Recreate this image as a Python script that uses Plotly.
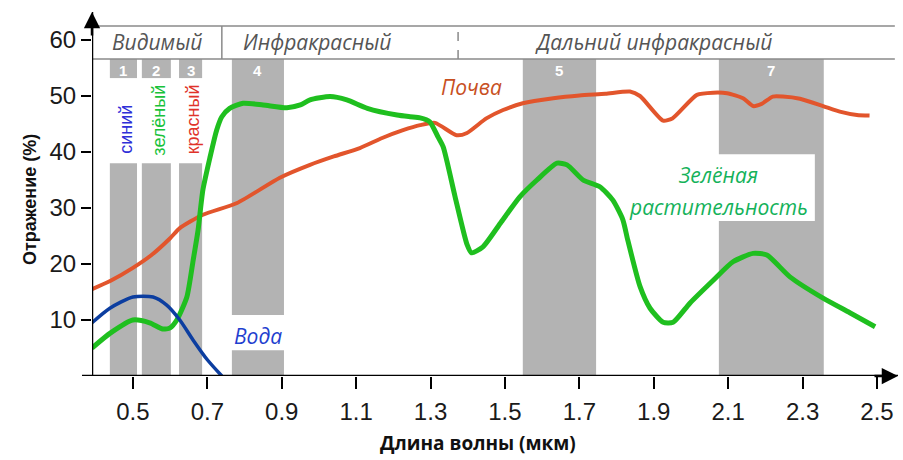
import plotly.graph_objects as go

# Spectral reflectance curves (wavelength in µm, reflectance in %)
soil_x = [0.39, 0.44, 0.5, 0.55, 0.6, 0.626, 0.688, 0.78, 0.895, 0.976, 1.04,
          1.11, 1.17, 1.226, 1.272, 1.312, 1.37, 1.398, 1.45, 1.495, 1.548, 1.63,
          1.70, 1.77, 1.836, 1.863, 1.925, 1.95, 2.016, 2.06, 2.097, 2.14, 2.167, 2.19,
          2.22, 2.247, 2.293, 2.355, 2.4, 2.446, 2.48]
soil_y = [15.5, 17.0, 19.3, 21.6, 24.6, 26.4, 28.8, 30.9, 35.4, 37.7, 39.2,
          40.7, 42.5, 43.9, 44.8, 45.2, 43.0, 43.4, 46.0, 47.5, 48.7, 49.6,
          50.1, 50.4, 50.8, 50.0, 45.6, 46.0, 50.2, 50.6, 50.5, 49.6, 48.2, 48.6,
          49.9, 49.9, 49.5, 48.2, 47.2, 46.6, 46.5]

veg_x = [0.39, 0.44, 0.5, 0.545, 0.58, 0.6, 0.618, 0.645, 0.662, 0.675, 0.688, 0.707,
         0.725, 0.739, 0.76, 0.796, 0.85, 0.914, 0.95, 0.976, 1.03, 1.075, 1.13, 1.21,
         1.245, 1.272, 1.298, 1.32, 1.334, 1.366, 1.398, 1.41, 1.44, 1.49, 1.54, 1.586,
         1.64, 1.667, 1.71, 1.755, 1.79, 1.817, 1.83, 1.863, 1.89, 1.925, 1.952, 1.997,
         2.06, 2.113, 2.167, 2.204, 2.266, 2.355, 2.427, 2.495]
veg_y = [5.0, 7.7, 10.0, 9.5, 8.4, 8.6, 10.0, 14.1, 20.7, 26.0, 33.2, 39.0,
         43.9, 46.3, 47.8, 48.7, 48.4, 47.9, 48.4, 49.3, 49.9, 49.3, 47.8, 46.6,
         46.3, 46.1, 45.4, 42.7, 40.9, 32.0, 23.5, 22.0, 23.0, 27.5, 32.0, 35.0,
         38.0, 37.7, 35.0, 33.8, 31.4, 27.9, 24.3, 16.0, 12.1, 9.6, 9.6, 13.0,
         17.1, 20.4, 21.9, 21.6, 17.7, 13.9, 11.3, 8.8]

water_x = [0.39, 0.438, 0.5, 0.554, 0.59, 0.626, 0.662, 0.7, 0.739]
water_y = [9.5, 12.1, 14.1, 14.1, 12.7, 10.0, 6.4, 2.9, 0.0]

# Sensor bands: start, end, number
band_x0 = [0.438, 0.524, 0.624, 0.766, 1.548, 2.075]
band_x1 = [0.511, 0.602, 0.686, 0.906, 1.745, 2.357]
band_num = ["1", "2", "3", "4", "5", "7"]

# Colour names shown in the visible bands
color_names = ["синий", "зелёный", "красный"]
color_name_cols = ["#2f2fd8", "#19c23a", "#e0322a"]

# Spectral regions shown in the header strip
region_names = ["Видимый", "Инфракрасный", "Дальний инфракрасный"]
region_centers = [0.565, 0.995, 1.898]
region_splits = [0.739, 1.374]

x_ticks = [0.5, 0.7, 0.9, 1.1, 1.3, 1.5, 1.7, 1.9, 2.1, 2.3, 2.5]
y_ticks = [10, 20, 30, 40, 50, 60]

X_MIN, X_MAX = 0.39, 2.5565
Y_MAX = 65
HDR_LO, HDR_HI = 56.6, 62.5

GRAY = "#b3b3b3"
SOIL = "#e2552c"
VEG = "#1fbf1f"
WATER = "#0c3ea0"
ITALIC_FONT = "Open Sans"

PL, PR, PT, PB = 92, 5, 12, 84
W, H = 903, 460
pw, ph = W - PL - PR, H - PT - PB

fig = go.Figure()

fig.add_trace(go.Scatter(x=soil_x, y=soil_y, mode="lines",
                         line=dict(color=SOIL, width=4, shape="spline", smoothing=0.6),
                         hoverinfo="skip"))
fig.add_trace(go.Scatter(x=veg_x, y=veg_y, mode="lines",
                         line=dict(color=VEG, width=5, shape="spline", smoothing=0.6),
                         hoverinfo="skip"))
fig.add_trace(go.Scatter(x=water_x, y=water_y, mode="lines",
                         line=dict(color=WATER, width=3.5, shape="spline", smoothing=0.7),
                         hoverinfo="skip"))

shapes = []


def rect(x0, x1, y0, y1, color):
    shapes.append(dict(type="rect", xref="x", yref="y", x0=x0, x1=x1, y0=y0, y1=y1,
                       fillcolor=color, line=dict(width=0), layer="below"))


# Gray band columns, with openings left for labels
for i, (a, b) in enumerate(zip(band_x0, band_x1)):
    if i < 3:
        rect(a, b, 53.2, HDR_LO, GRAY)
        rect(a, b, 0, 38.0, GRAY)
    elif i == 3:
        rect(a, b, 10.9, HDR_LO, GRAY)
        rect(a, b, 0, 4.6, GRAY)
    else:
        rect(a, b, 0, HDR_LO, GRAY)

# white box behind the vegetation label
rect(1.85, 2.333, 27.7, 39.6, "white")

# header strip
for yy in (HDR_LO, HDR_HI):
    shapes.append(dict(type="line", xref="x", yref="y", x0=X_MIN, x1=2.548, y0=yy, y1=yy,
                       line=dict(color="#8a8a8a", width=1.5), layer="below"))
shapes.append(dict(type="line", xref="x", yref="y", x0=region_splits[0], x1=region_splits[0],
                   y0=HDR_LO, y1=HDR_HI, line=dict(color="#8a8a8a", width=1.5)))
shapes.append(dict(type="line", xref="x", yref="y", x0=region_splits[1], x1=region_splits[1],
                   y0=HDR_LO, y1=HDR_HI, line=dict(color="#8a8a8a", width=1.5, dash="dash")))

# axis lines (x axis runs a little past the y axis on the left)
shapes.append(dict(type="line", xref="paper", yref="y", x0=-10 / pw, x1=1, y0=0, y1=0,
                   line=dict(color="black", width=2.5)))
shapes.append(dict(type="line", xref="x", yref="paper", x0=X_MIN, x1=X_MIN, y0=0, y1=1,
                   line=dict(color="black", width=2.5)))

ann = []

# arrowheads
ann.append(dict(x=1, y=0, xref="paper", yref="y", ax=-25, ay=0, showarrow=True,
                arrowhead=2, arrowsize=1.3, arrowwidth=2.5, arrowcolor="black", text=""))
ann.append(dict(x=X_MIN, y=Y_MAX, xref="x", yref="y", ax=0, ay=25, showarrow=True,
                arrowhead=2, arrowsize=1.3, arrowwidth=2.5, arrowcolor="black", text=""))

# band numbers
for a, b, n in zip(band_x0, band_x1, band_num):
    ann.append(dict(x=(a + b) / 2, y=54.5, xref="x", yref="y", text=f"<b>{n}</b>",
                    showarrow=False, font=dict(family="Liberation Sans", size=15, color="white")))

# colour names, rotated
for i, (name, col) in enumerate(zip(color_names, color_name_cols)):
    ann.append(dict(x=(band_x0[i] + band_x1[i]) / 2 + 0.006, y=[44.1, 45.7, 45.8][i],
                    xref="x", yref="y", text=name, textangle=-90, showarrow=False,
                    font=dict(family="Liberation Sans", size=18, color=col)))

# header region names
for name, cx in zip(region_names, region_centers):
    ann.append(dict(x=cx, y=59.6, xref="x", yref="y", text=f"<i>{name}</i>", showarrow=False,
                    font=dict(family=ITALIC_FONT, size=21, color="#555555")))

# curve labels
ann.append(dict(x=1.411, y=51.6, xref="x", yref="y", text="<i>Почва</i>", showarrow=False,
                font=dict(family=ITALIC_FONT, size=21, color="#c8501f")))
ann.append(dict(x=0.836, y=7.1, xref="x", yref="y", text="<i>Вода</i>", showarrow=False,
                font=dict(family=ITALIC_FONT, size=21, color="#1f3fcf")))
ann.append(dict(x=2.073, y=35.9, xref="x", yref="y", text="<i>Зелёная</i>", showarrow=False,
                font=dict(family=ITALIC_FONT, size=21, color="#14b25a")))
ann.append(dict(x=2.073, y=30.2, xref="x", yref="y", text="<i>растительность</i>", showarrow=False,
                font=dict(family=ITALIC_FONT, size=21, color="#14b25a")))

# axis titles, placed in pixels and converted to paper coordinates
ann.append(dict(x=(478 - PL) / pw, y=(H - PB - 443) / ph, xref="paper", yref="paper",
                xanchor="center", yanchor="middle",
                text="<b>Длина волны (мкм)</b>", showarrow=False,
                font=dict(family="Open Sans", size=19, color="#111111")))
ann.append(dict(x=(30 - PL) / pw, y=(H - PB - 200) / ph, xref="paper", yref="paper",
                xanchor="center", yanchor="middle",
                text="<b>Отражение (%)</b>", showarrow=False, textangle=-90,
                font=dict(family="Liberation Sans", size=18, color="#111111")))

fig.update_layout(
    width=W, height=H,
    margin=dict(l=PL, r=PR, t=PT, b=PB),
    paper_bgcolor="white", plot_bgcolor="white",
    showlegend=False,
    shapes=shapes,
    annotations=ann,
    xaxis=dict(range=[X_MIN, X_MAX], showgrid=False, zeroline=False, showline=False,
               tickmode="array", tickvals=x_ticks, ticktext=[f"{t:.1f}" for t in x_ticks],
               ticks="outside", ticklen=12, tickwidth=2, tickcolor="black",
               ticklabelstandoff=2,
               tickfont=dict(family="Liberation Sans", size=24, color="#1a1a1a")),
    yaxis=dict(range=[0, Y_MAX], showgrid=False, zeroline=False, showline=False,
               tickmode="array", tickvals=y_ticks, ticktext=[str(t) for t in y_ticks],
               ticks="outside", ticklen=10, tickwidth=2, tickcolor="black",
               tickfont=dict(family="Liberation Sans", size=24, color="#1a1a1a")),
)

fig.write_html("out.html")
